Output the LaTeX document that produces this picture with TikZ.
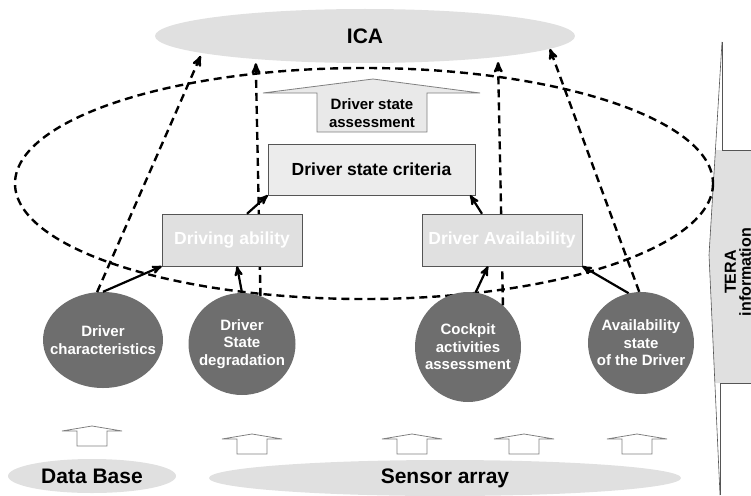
\documentclass[tikz,border=0pt]{standalone}
\usepackage{fontspec}
\setmainfont{Liberation Sans}
\usetikzlibrary{shapes.geometric, positioning, arrows}
\definecolor{diskgray}{RGB}{110,110,110}
\definecolor{padgray}{RGB}{224,224,224}
\definecolor{critgray}{RGB}{236,236,236}
\definecolor{rimgray}{RGB}{85,85,85}
\tikzset {
    >=stealth',
    pad/.style={ellipse, fill=padgray, inner sep=0pt, font=\bfseries\fontsize{21}{24}\selectfont},
    disk/.style={ellipse, fill=diskgray, inner sep=0pt},
    disktext/.style={text=white, align=center, font=\bfseries\fontsize{15}{17.5}\selectfont},
    ability/.style={rectangle, draw=rimgray, fill=padgray, text=white, minimum height=52pt, font=\bfseries\fontsize{17.5}{20}\selectfont},
    crit/.style={rectangle, draw=rimgray, fill=critgray, minimum width=207pt, minimum height=51pt, font=\bfseries\fontsize{17.5}{20}\selectfont},
    link/.style={->, line width=2.2pt},
    dlink/.style={->, line width=2.4pt, dash pattern=on 8pt off 5pt},
    inlet/.style={draw=gray, fill=white, line width=0.8pt},
    bigarrow/.style={draw=gray, fill=padgray!70, line width=0.8pt},
    tera/.style={draw=rimgray, line width=0.6pt}
}

\begin{document}
\begin{tikzpicture}[x=1pt, y=-1pt]
    \useasboundingbox (0,0) rectangle (751,495);

    % TERA bar on the right
    \fill[padgray] (715.4,150) -- (751,150) -- (751,383) -- (714.9,383) -- (709,255) -- cycle;
    \draw[tera] (722,42) -- (709,255) -- (720,495);
    \draw[tera] (722,42) -- (722,150) -- (751,150);
    \draw[tera] (751,383) -- (720,383) -- (720,495);
    \node[rotate=90, align=center, font=\bfseries\fontsize{16}{15}\selectfont] (tera) at (738,272) {TERA\\information};

    % big dashed ring
    \draw[line width=2.4pt, dash pattern=on 8pt off 5pt] (364,183.5) ellipse [x radius=349, y radius=115.5];

    \node[pad, minimum width=420pt, minimum height=54pt] (ica) at (365,36) {ICA};

    \node[disk, minimum width=120pt, minimum height=96pt, label={[disktext]center:Driver\\characteristics}] (dchar) at (103,340) {};
    \node[disk, minimum width=107pt, minimum height=102pt, label={[disktext]center:Driver\\State\\degradation}] (deg) at (242,344) {};
    \node[disk, minimum width=106pt, minimum height=110pt, label={[disktext]center:Cockpit\\activities\\assessment}] (cockpit) at (468,347) {};
    \node[disk, minimum width=106pt, minimum height=102pt, label={[disktext]center:Availability\\state\\of the Driver}] (avail) at (641,343) {};

    \draw[dlink, shorten >=3pt] (dchar.97) -- (ica.186);
    \draw[dlink, shorten >=4pt] (deg.69) -- (ica.192);
    \draw[dlink, shorten >=5pt] (cockpit.50) -- (ica.351);
    \draw[dlink] (avail.92) -- (ica.356);

    \node[ability, minimum width=140pt] (driving) at (232,240) {Driving ability};
    \node[ability, minimum width=160pt] (davail) at (502,240) {Driver Availability};
    \node[crit] (crit) at (371.5,169.5) {Driver state criteria};

    \draw[bigarrow] (317,132) -- (317,93) -- (263,93) -- (373,79) -- (480,93) -- (427,93) -- (427,132) -- cycle;
    \node[align=center, font=\bfseries\fontsize{15}{18}\selectfont] (assess) at (372,113) {Driver state\\assessment};

    \draw[link] (dchar.north) -- (driving.south west);
    \draw[link] (deg.north) -- ([xshift=-5pt]driving.south -| deg.north);
    \draw[link] ([xshift=15pt]driving.north) -- (crit.south west);
    \draw[link] ([xshift=-20pt]davail.north) -- ([xshift=-5pt]crit.south east);
    \draw[link] (cockpit.82) -- ([xshift=-14pt]davail.south);
    \draw[link] (avail.104) -- (davail.south east);

    % inputs from below
    \foreach \cx/\tip in {92/426, 252/434, 412/434, 524/434, 637/434}
        \draw[inlet] (\cx-15,\tip+20) -- (\cx-15,\tip+5) -- (\cx-30,\tip+5) -- (\cx,\tip) -- (\cx+30,\tip+5) -- (\cx+15,\tip+5) -- (\cx+15,\tip+20) -- cycle;

    \node[pad, minimum width=168pt, minimum height=34pt] (db) at (92,476) {Data Base};
    \node[pad, minimum width=472pt, minimum height=36pt] (sensors) at (445,478) {Sensor array};
\end{tikzpicture}
\end{document}
